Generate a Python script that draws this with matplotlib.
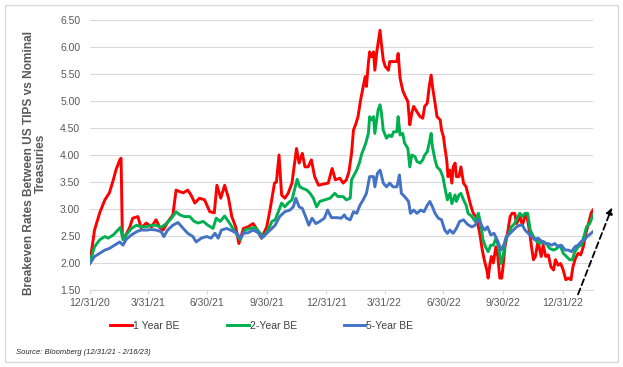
import numpy as np
import pandas as pd
import matplotlib
matplotlib.use("Agg")
import matplotlib.pyplot as plt
import matplotlib.dates as mdates
from matplotlib.patches import Rectangle

# days after 12/31/20, breakeven rate (%)
red_day = [0, 7, 15, 23, 30, 36, 40, 46, 48, 50, 54, 61, 66, 74, 79, 87, 95, 102, 108, 113,
           120, 128, 133, 139, 144, 151, 156, 162, 169, 177, 185, 192, 196, 202, 208, 214, 219,
           225, 230, 237, 244, 252, 257, 265, 273, 278, 285, 288, 292, 296, 301, 306, 312, 316,
           319, 323, 328, 332, 337, 342, 347, 353, 360, 368, 374, 379, 386, 391, 396, 400, 404,
           407, 411, 414, 418, 422, 425, 427, 430, 432, 435, 438, 440, 443, 445, 448, 450, 453,
           456, 461, 463, 468, 474, 476, 479, 483, 486, 491, 494, 497, 500, 505, 510, 514, 517,
           521, 524, 527, 529, 533, 536, 541, 543, 546, 548, 551, 553, 556, 559, 561, 564, 566,
           570, 573, 577, 581, 584, 588, 592, 596, 599, 602, 606, 609, 613, 615, 618, 620, 623,
           627, 630, 633, 636, 638, 641, 645, 649, 652, 656, 659, 664, 668, 671, 674, 677, 680,
           682, 685, 688, 692, 697, 700, 704, 708, 712, 716, 719, 723, 727, 731, 735, 739, 743,
           746, 750, 754, 758, 762, 766, 770, 774, 777]
red_val = [2.02, 2.61, 2.93, 3.17, 3.30, 3.54, 3.72, 3.91, 3.94, 2.49, 2.49, 2.65, 2.83, 2.86,
           2.65, 2.74, 2.67, 2.80, 2.65, 2.61, 2.76, 2.89, 3.35, 3.32, 3.30, 3.35, 3.26, 3.11,
           3.20, 3.17, 2.95, 2.93, 3.44, 3.20, 3.44, 3.20, 2.86, 2.67, 2.36, 2.64, 2.67, 2.73,
           2.64, 2.46, 2.67, 2.98, 3.48, 3.50, 4.00, 3.26, 3.20, 3.29, 3.48, 3.85, 4.12, 3.85,
           4.03, 3.78, 3.78, 3.91, 3.60, 3.44, 3.46, 3.48, 3.75, 3.54, 3.57, 3.48, 3.54, 3.69,
           4.03, 4.46, 4.59, 4.71, 5.02, 5.27, 5.45, 5.27, 5.70, 5.91, 5.82, 5.91, 5.57, 5.91,
           6.07, 6.31, 6.07, 5.76, 5.64, 5.57, 5.73, 5.73, 5.73, 5.88, 5.42, 5.20, 5.11, 4.99,
           4.56, 4.77, 4.90, 4.80, 4.71, 4.68, 4.90, 4.96, 5.27, 5.48, 5.27, 4.96, 4.71, 4.65,
           4.46, 4.34, 4.15, 3.91, 3.60, 3.72, 3.48, 3.78, 3.85, 3.60, 3.60, 3.78, 3.48, 3.41,
           3.26, 3.07, 2.92, 2.86, 2.73, 2.55, 2.24, 2.06, 1.87, 1.72, 2.00, 2.12, 2.00, 2.30,
           2.12, 1.72, 1.72, 1.93, 2.30, 2.55, 2.86, 2.92, 2.92, 2.73, 2.86, 2.70, 2.83, 2.92,
           2.73, 2.49, 2.30, 2.06, 2.12, 2.40, 2.12, 2.33, 2.12, 2.15, 1.93, 1.87, 2.06, 1.96,
           1.99, 1.87, 1.69, 1.72, 1.69, 1.93, 2.09, 2.18, 2.15, 2.30, 2.55, 2.73, 2.92, 2.98]

green_day = [0, 7, 15, 23, 28, 36, 43, 47, 51, 56, 64, 72, 79, 87, 95, 102, 110, 118, 126, 133,
             139, 146, 154, 161, 167, 175, 182, 190, 195, 201, 208, 216, 224, 232, 239, 247, 255,
             263, 268, 275, 281, 286, 291, 296, 301, 306, 312, 317, 320, 324, 329, 335, 340, 345,
             350, 355, 363, 371, 378, 383, 391, 396, 402, 404, 408, 412, 416, 420, 422, 426, 430,
             432, 435, 438, 440, 443, 445, 448, 450, 453, 458, 462, 466, 469, 474, 476, 479, 483,
             486, 491, 494, 497, 502, 505, 510, 514, 517, 521, 524, 527, 529, 533, 536, 541, 545,
             548, 552, 556, 559, 564, 566, 570, 573, 577, 581, 584, 590, 595, 600, 604, 607, 611,
             615, 619, 623, 627, 631, 635, 638, 642, 646, 651, 656, 661, 664, 668, 672, 676, 680,
             685, 690, 695, 700, 705, 710, 716, 721, 726, 731, 736, 741, 745, 749, 754, 759, 763,
             767, 772, 777]
green_val = [2.02, 2.30, 2.43, 2.49, 2.46, 2.52, 2.61, 2.66, 2.43, 2.52, 2.64, 2.70, 2.67, 2.67,
             2.70, 2.70, 2.66, 2.73, 2.83, 2.95, 2.89, 2.86, 2.86, 2.77, 2.74, 2.77, 2.70, 2.64,
             2.83, 2.77, 2.87, 2.73, 2.58, 2.43, 2.61, 2.64, 2.66, 2.55, 2.49, 2.61, 2.77, 2.80,
             2.95, 3.11, 3.04, 3.11, 3.17, 3.41, 3.55, 3.41, 3.38, 3.35, 3.29, 3.20, 3.04, 3.14,
             3.17, 3.20, 3.29, 3.23, 3.23, 3.17, 3.20, 3.54, 3.63, 3.72, 3.85, 4.03, 4.09, 4.22,
             4.40, 4.71, 4.65, 4.71, 4.40, 4.65, 4.83, 4.93, 4.80, 4.46, 4.31, 4.37, 4.34, 4.43,
             4.43, 4.71, 4.37, 4.40, 4.22, 4.12, 3.78, 4.00, 3.97, 3.88, 3.85, 3.91, 4.00, 4.06,
             4.22, 4.40, 4.15, 3.91, 3.78, 3.72, 3.60, 3.41, 3.17, 3.29, 3.10, 3.26, 3.14, 3.26,
             3.29, 3.17, 3.07, 2.92, 2.86, 2.77, 2.92, 2.70, 2.43, 2.30, 2.21, 2.33, 2.33, 2.46,
             2.30, 1.99, 2.12, 2.43, 2.52, 2.67, 2.73, 2.86, 2.92, 2.86, 2.92, 2.92, 2.61, 2.49,
             2.40, 2.36, 2.40, 2.36, 2.27, 2.24, 2.27, 2.33, 2.18, 2.12, 2.06, 2.06, 2.21, 2.30,
             2.33, 2.49, 2.67, 2.73, 2.89]

blue_day = [0, 7, 15, 23, 30, 38, 46, 51, 56, 64, 72, 79, 87, 95, 102, 110, 114, 120, 128, 136,
            144, 151, 159, 164, 172, 180, 187, 193, 198, 203, 211, 219, 227, 232, 237, 244, 252,
            260, 265, 273, 281, 286, 293, 301, 309, 314, 318, 323, 328, 333, 338, 343, 349, 355,
            362, 367, 373, 381, 388, 393, 396, 402, 407, 412, 417, 422, 427, 432, 438, 440, 444,
            448, 450, 453, 458, 463, 468, 474, 478, 481, 486, 492, 495, 500, 505, 511, 516, 521,
            525, 529, 533, 538, 543, 548, 552, 556, 561, 566, 571, 577, 582, 585, 590, 595, 599,
            602, 606, 610, 614, 619, 624, 630, 635, 640, 643, 649, 654, 659, 664, 668, 672, 677,
            682, 687, 692, 698, 703, 708, 713, 718, 723, 728, 734, 739, 744, 749, 754, 759, 764,
            768, 774, 777]
blue_val = [1.99, 2.12, 2.18, 2.24, 2.27, 2.33, 2.39, 2.33, 2.44, 2.52, 2.58, 2.61, 2.61, 2.62,
            2.61, 2.58, 2.49, 2.61, 2.70, 2.75, 2.64, 2.55, 2.49, 2.39, 2.46, 2.49, 2.46, 2.55,
            2.46, 2.61, 2.64, 2.60, 2.55, 2.46, 2.55, 2.56, 2.61, 2.56, 2.46, 2.55, 2.64, 2.70,
            2.86, 2.95, 2.98, 3.04, 3.20, 3.04, 3.01, 2.86, 2.70, 2.83, 2.73, 2.77, 2.83, 2.98,
            2.84, 2.84, 2.83, 2.89, 2.83, 2.80, 2.95, 2.92, 3.07, 3.17, 3.29, 3.60, 3.60, 3.41,
            3.66, 3.72, 3.63, 3.48, 3.41, 3.48, 3.41, 3.41, 3.63, 3.29, 3.23, 3.14, 2.92, 2.98,
            2.92, 2.98, 2.95, 3.07, 3.14, 3.04, 2.92, 2.83, 2.80, 2.61, 2.55, 2.61, 2.55, 2.64,
            2.77, 2.80, 2.73, 2.70, 2.67, 2.70, 2.80, 2.77, 2.67, 2.61, 2.67, 2.52, 2.55, 2.40,
            2.24, 2.36, 2.49, 2.55, 2.61, 2.67, 2.70, 2.70, 2.61, 2.55, 2.49, 2.43, 2.46, 2.40,
            2.36, 2.36, 2.33, 2.36, 2.30, 2.33, 2.24, 2.24, 2.21, 2.30, 2.33, 2.40, 2.43, 2.49,
            2.55, 2.58]

tick_dates = ["2020-12-31", "2021-03-31", "2021-06-30", "2021-09-30", "2021-12-31",
              "2022-03-31", "2022-06-30", "2022-09-30", "2022-12-31"]

start = pd.Timestamp("2020-12-31")
end = pd.Timestamp("2023-02-16")


def to_dates(days):
    return start + pd.to_timedelta(days, unit="D")


plt.rcParams['font.family'] = ['Liberation Sans', 'DejaVu Sans']

W, H = 623, 367
fig = plt.figure(figsize=(W / 100, H / 100), dpi=100)
ax = fig.add_axes([90 / W, 1 - 290 / H, (593 - 90) / W, 270 / H])

ax.plot(to_dates(red_day), red_val, color='#FF0000', lw=2.1, label='1 Year BE')
ax.plot(to_dates(green_day), green_val, color='#00B050', lw=2.1, label='2-Year BE')
ax.plot(to_dates(blue_day), blue_val, color='#4472C4', lw=2.1, label='5-Year BE')

ax.set_xlim(start, end)
ax.set_ylim(1.5, 6.5)
ax.set_yticks(np.arange(1.5, 6.51, 0.5))
ax.yaxis.set_major_formatter(plt.FuncFormatter(lambda v, p: "%.2f" % v))
ax.set_xticks(pd.to_datetime(tick_dates))
ax.xaxis.set_major_formatter(plt.FuncFormatter(
    lambda v, p: "{d.month}/{d.day}/{d:%y}".format(d=mdates.num2date(v))))

ax.grid(axis='y', color='#d9d9d9', lw=0.8)
ax.set_axisbelow(True)
for s in ['top', 'right', 'left']:
    ax.spines[s].set_visible(False)
ax.spines['bottom'].set_color('#d9d9d9')
ax.tick_params(axis='y', length=0, pad=7, labelsize=7.5, labelcolor='#595959')
ax.tick_params(axis='x', length=3, color='#d9d9d9', pad=3, labelsize=7.5, labelcolor='#595959')

ax.set_ylabel("Breakeven Rates Between US TIPS vs Nominal\nTreasuries",
              fontsize=8.6, fontweight='bold', color='#595959', linespacing=1.0)
ax.yaxis.set_label_coords(-43 / (593 - 90), 0.47)

fig.legend(loc='center', bbox_to_anchor=(262 / W, 1 - 326 / H), ncol=3, frameon=False,
           fontsize=7.5, handlelength=2.1, handletextpad=0.1, columnspacing=4.5,
           labelcolor='#404040')

fig.text(16 / W, 1 - 352 / H, "Source: Bloomberg (12/31/21 - 2/16/23)", fontsize=5.5,
         style='italic', color='#262626', va='center')

ax.annotate("", xy=(613 / W, 1 - 205 / H), xytext=(577 / W, 1 - 297 / H),
            xycoords='figure fraction', textcoords='figure fraction',
            arrowprops=dict(arrowstyle='-|>', color='black', lw=1.3, ls=(0, (3.5, 2)),
                            mutation_scale=9))

fig.patches.append(Rectangle((5 / W, 5 / H), 613 / W, 357 / H, transform=fig.transFigure,
                             fill=False, edgecolor='#d9d9d9', lw=1))

fig.savefig("out.png", dpi=100)
